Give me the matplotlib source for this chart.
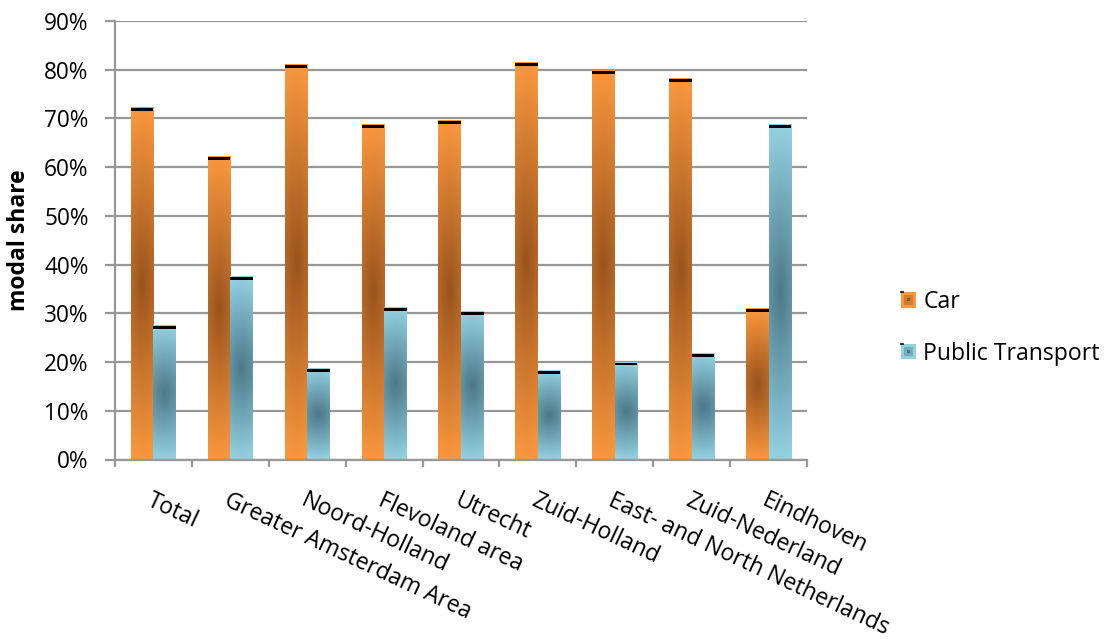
import numpy as np
import matplotlib
matplotlib.use("Agg")
import matplotlib.pyplot as plt
from matplotlib.patches import Rectangle
from matplotlib.lines import Line2D
from matplotlib.legend_handler import HandlerBase
from matplotlib.colors import to_rgb

plt.rcParams['font.family'] = ['Open Sans', 'DejaVu Sans']

regions = ["Total", "Greater Amsterdam Area", "Noord-Holland", "Flevoland area",
           "Utrecht", "Zuid-Holland", "East- and North Netherlands",
           "Zuid-Nederland", "Eindhoven"]
car = [72.4, 62.3, 81.2, 68.8, 69.6, 81.6, 79.9, 78.2, 31.1]
public_transport = [27.6, 37.7, 18.8, 31.2, 30.4, 18.4, 20.1, 21.8, 68.9]
series_names = ["Car", "Public Transport"]
y_ticks = [0, 10, 20, 30, 40, 50, 60, 70, 80, 90]
y_tick_labels = ["0%", "10%", "20%", "30%", "40%", "50%", "60%", "70%", "80%", "90%"]

CAR_LIGHT, CAR_DARK = "#F9973E", "#98531C"
PT_LIGHT, PT_DARK = "#93D1E1", "#4B7888"
GRID = "#979797"

fig = plt.figure(figsize=(11.04, 6.39), dpi=100)
ax = fig.add_axes([115 / 1104, 1 - 459.5 / 639, (807 - 115) / 1104, (459.5 - 21) / 639])

bar_w = 0.293
x = np.arange(len(regions))


def gradient_image(light, dark, ny=200, nx=20):
    """Centre-dark path gradient for a single bar."""
    lt, dk = np.array(to_rgb(light)), np.array(to_rgb(dark))
    yy = np.linspace(-1, 1, ny)[:, None]
    xx = np.linspace(-1, 1, nx)[None, :]
    t = np.sqrt((0.3 * xx) ** 2 + yy ** 2)
    t = np.clip(t, 0, 1)
    return dk[None, None, :] + (lt - dk)[None, None, :] * t[..., None]


def draw_bars(xs, values, light, dark):
    bars = ax.bar(xs, values, width=bar_w, color="none", edgecolor="none", zorder=2)
    img = gradient_image(light, dark)
    for rect, v in zip(bars, values):
        x0 = rect.get_x()
        x1 = x0 + rect.get_width()
        ax.imshow(img, extent=[x0, x1, 0, v], origin="lower", aspect="auto",
                  interpolation="bilinear", zorder=2)
        # dark cap along the top edge
        ax.bar(rect.get_x() + rect.get_width() / 2, 0.6, bottom=v - 0.8,
               width=rect.get_width(), color="black", zorder=3)
    return bars


draw_bars(x - bar_w / 2, car, CAR_LIGHT, CAR_DARK)
draw_bars(x + bar_w / 2, public_transport, PT_LIGHT, PT_DARK)

ax.set_xlim(-0.5, len(regions) - 0.5)
ax.set_ylim(0, 90)

# gridlines and axes
ax.set_yticks(y_ticks)
ax.set_yticklabels(y_tick_labels)
ax.yaxis.grid(True, color=GRID, linewidth=1.6, zorder=0)
ax.set_axisbelow(True)
for s in ["top", "right"]:
    ax.spines[s].set_visible(False)
for s in ["left", "bottom"]:
    ax.spines[s].set_color(GRID)
    ax.spines[s].set_linewidth(1.6)
ax.tick_params(axis="y", direction="out", length=7, width=1.6, color=GRID,
               pad=12, labelsize=16.3)

# category boundary ticks, labels at category centres
ax.set_xticks(np.arange(-0.5, len(regions)), minor=True)
ax.tick_params(axis="x", which="minor", direction="out", length=5, width=1.6, color=GRID)
ax.set_xticks(x)
ax.set_xticklabels(regions, rotation=-25, ha="left", va="top", rotation_mode="anchor",
                   fontsize=16.6)
ax.tick_params(axis="x", which="major", length=0, pad=21)

ax.set_ylabel("modal share", fontsize=16.5, fontweight="bold")
ax.yaxis.set_label_coords(-0.121, 0.5)


class GradientSquare(HandlerBase):
    def create_artists(self, legend, orig_handle, xdescent, ydescent, width, height,
                       fontsize, trans):
        light, dark = orig_handle
        s = width
        x0 = -xdescent
        y0 = -ydescent + (height - s) / 2
        mid = tuple(0.6 * np.array(to_rgb(light)) + 0.4 * np.array(to_rgb(dark)))
        outer = Rectangle((x0, y0), s, s, facecolor=light, edgecolor="none", transform=trans)
        inner1 = Rectangle((x0 + s * 0.2, y0 + s * 0.2), s * 0.6, s * 0.6,
                           facecolor=mid, edgecolor="none", transform=trans)
        inner2 = Rectangle((x0 + s * 0.4, y0 + s * 0.4), s * 0.2, s * 0.2,
                           facecolor=dark, edgecolor="none", transform=trans)
        tick = Line2D([x0, x0 + s * 0.12], [y0 + s, y0 + s], color="black", lw=1.2,
                      transform=trans)
        return [outer, inner1, inner2, tick]


handles = [(CAR_LIGHT, CAR_DARK), (PT_LIGHT, PT_DARK)]
fig.legend(handles, series_names, handler_map={tuple: GradientSquare()},
           loc="upper left", bbox_to_anchor=(901 / 1104, 1 - 290 / 639),
           frameon=False, fontsize=16.6, handlelength=0.67, handleheight=0.7,
           handletextpad=0.3, labelspacing=1.2, borderpad=0, borderaxespad=0)

fig.savefig("out.png", dpi=100)
